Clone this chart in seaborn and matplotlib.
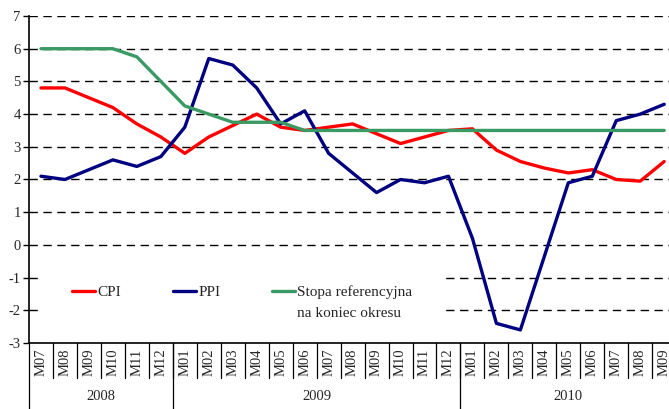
import matplotlib
matplotlib.use('Agg')
import matplotlib.pyplot as plt
import matplotlib.transforms as mtransforms
from matplotlib.lines import Line2D
import pandas as pd
import seaborn as sns

# data (monthly, 2008 M07 - 2010 M09)
months = ['M07', 'M08', 'M09', 'M10', 'M11', 'M12',
          'M01', 'M02', 'M03', 'M04', 'M05', 'M06',
          'M07', 'M08', 'M09', 'M10', 'M11', 'M12',
          'M01', 'M02', 'M03', 'M04', 'M05', 'M06', 'M07', 'M08', 'M09']
years = ['2008', '2009', '2010']
year_spans = [(0, 5), (6, 17), (18, 26)]
cpi = [4.8, 4.8, 4.5, 4.2, 3.7, 3.3,
       2.8, 3.3, 3.65, 4.0, 3.6, 3.5, 3.6, 3.7, 3.4, 3.1, 3.3, 3.5,
       3.55, 2.9, 2.55, 2.35, 2.2, 2.3, 2.0, 1.95, 2.55]
ppi = [2.1, 2.0, 2.3, 2.6, 2.4, 2.7,
       3.6, 5.7, 5.5, 4.8, 3.7, 4.1, 2.8, 2.2, 1.6, 2.0, 1.9, 2.1,
       0.2, -2.4, -2.6, -0.35, 1.9, 2.1, 3.8, 4.0, 4.3]
stopa = [6.0, 6.0, 6.0, 6.0, 5.75, 5.0,
         4.25, 4.0, 3.75, 3.75, 3.75, 3.5, 3.5, 3.5, 3.5, 3.5, 3.5, 3.5,
         3.5, 3.5, 3.5, 3.5, 3.5, 3.5, 3.5, 3.5, 3.5]
series_names = ['CPI', 'PPI', 'Stopa referencyjna']
colors = ['#ff0000', '#000080', '#3a9a64']

df = pd.DataFrame({
    'idx': list(range(len(months))) * 3,
    'value': cpi + ppi + stopa,
    'series': [s for s in series_names for _ in months],
})

sns.set_style('white')
plt.rcParams['font.family'] = ['Liberation Serif', 'DejaVu Serif']
plt.rcParams['axes.unicode_minus'] = False

fig = plt.figure(figsize=(6.69, 4.09), dpi=100)
ax = fig.add_axes([29 / 669, 66 / 409, 640 / 669, 327 / 409])

sns.lineplot(data=df, x='idx', y='value', hue='series', hue_order=series_names,
             palette=colors, linewidth=2.4, legend=False, ax=ax, zorder=3)

ax.set_xlim(-0.5, 26.2)
ax.set_ylim(-3, 7)
ax.set_yticks(range(-3, 8))
ax.set_yticklabels([str(v) for v in range(-3, 8)], fontsize=10.5)
ax.set_xticks(range(len(months)))
ax.set_xticklabels(months, rotation=90, fontsize=10.5)
ax.set_xlabel('')
ax.set_ylabel('')
ax.tick_params(axis='y', length=4, width=1, color='black', pad=2, left=True)
ax.tick_params(axis='x', length=0, pad=4)

for y in range(-2, 8):
    ax.axhline(y, color='black', lw=1.0, ls=(0, (6, 4)), zorder=1)

for side in ['top', 'right']:
    ax.spines[side].set_visible(False)
for side in ['left', 'bottom']:
    ax.spines[side].set_color('black')
    ax.spines[side].set_linewidth(1.2)

# table-like separators under the axis
trans = mtransforms.blended_transform_factory(ax.transData, ax.transAxes)
for i in range(1, len(months)):
    ax.plot([i - 0.5, i - 0.5], [0, -0.107], color='black', lw=0.9,
            transform=trans, clip_on=False)
for start, end in year_spans:
    ax.plot([start - 0.5, start - 0.5], [0, -0.25], color='black', lw=0.9,
            transform=trans, clip_on=False)
for label, (start, end) in zip(years, year_spans):
    ax.text((start + end) / 2, -0.165, label, transform=trans,
            ha='center', va='center', fontsize=10.5)

handles = [Line2D([], [], color=c, lw=2.4) for c in colors]
leg = ax.legend(handles, series_names, ncol=3, loc='center left',
                bbox_to_anchor=(0.022, 0.156), borderaxespad=0,
                frameon=True, facecolor='white', edgecolor='none', framealpha=1,
                fontsize=11, handlelength=1.5, handletextpad=0.15,
                columnspacing=3.4, borderpad=1.9)
leg.set_zorder(5)
ax.annotate('na koniec okresu', xy=(0, 0), xycoords=leg.get_texts()[2],
            xytext=(0, -6), textcoords='offset points', va='top', ha='left',
            fontsize=11, zorder=6)

fig.savefig('out.png', dpi=100)
